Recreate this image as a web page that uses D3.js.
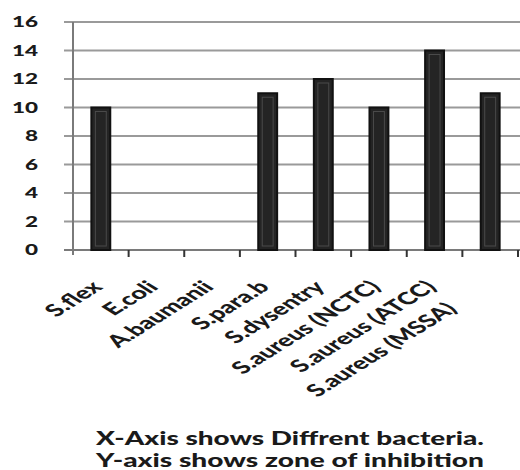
<!DOCTYPE html>
<html><head><meta charset="utf-8">
<script src="https://cdn.jsdelivr.net/npm/d3@7/dist/d3.min.js"></script>
<style>
html,body{margin:0;padding:0;background:#fff;}
svg{display:block;}
</style></head>
<body>
<svg id="chart" width="520" height="470"></svg>
<script>
const categories = ["S.flex","E.coli","A.baumanii","S.para.b","S.dysentry","S.aureus (NCTC)","S.aureus (ATCC)","S.aureus (MSSA)"];
const values = [10,0,0,11,12,10,14,11];
const yTicks = [0,2,4,6,8,10,12,14,16];
const captionLines = ["X-Axis shows Diffrent bacteria.","Y-axis shows zone of inhibition"];

(function(){
const svg = d3.select("#chart");
const mLeft = 73, mRight = 518, mTop = 22, mBottom = 250;
const sx = 1.6;
const font = "Lato, 'Open Sans', sans-serif";

const x = d3.scaleBand().domain(categories).range([mLeft, mRight]).paddingInner(0.66).paddingOuter(0.33);
const y = d3.scaleLinear().domain([0,16]).range([mBottom, mTop]);

// gridlines
svg.append("g").selectAll("line").data(yTicks).join("line")
  .attr("x1", 64).attr("x2", 520)
  .attr("y1", d => y(d)).attr("y2", d => y(d))
  .attr("stroke", "#9a9a9a").attr("stroke-width", 2);

// y axis line
svg.append("line").attr("x1", mLeft).attr("x2", mLeft).attr("y1", mTop).attr("y2", mBottom + 5)
  .attr("stroke", "#7a7a7a").attr("stroke-width", 2);
// x axis line
svg.append("line").attr("x1", 64).attr("x2", 520).attr("y1", mBottom).attr("y2", mBottom)
  .attr("stroke", "#7a7a7a").attr("stroke-width", 2);
// category ticks
const step = x.step();
svg.append("g").selectAll("line").data(categories).join("line")
  .attr("x1", (d,i) => mLeft + (i+1)*step).attr("x2", (d,i) => mLeft + (i+1)*step)
  .attr("y1", mBottom).attr("y2", mBottom + 7)
  .attr("stroke", "#333").attr("stroke-width", 2);

// y tick labels
svg.append("g").selectAll("text").data(yTicks).join("text")
  .attr("transform", d => `translate(38,${y(d)+5}) scale(1.5,1)`)
  .attr("text-anchor", "end")
  .attr("font-family", font).attr("font-weight", 900).attr("font-size", 15)
  .attr("fill", "#1a1a1a")
  .text(d => d);

// bars
const bars = svg.append("g");
categories.forEach((c,i) => {
  const v = values[i];
  if (v <= 0) return;
  bars.append("rect")
    .attr("x", x(c)).attr("y", y(v)).attr("width", x.bandwidth()).attr("height", y(0) - y(v))
    .attr("fill", "#242424").attr("stroke", "#111").attr("stroke-width", 2);
  bars.append("rect")
    .attr("x", x(c)+4).attr("y", y(v)+4).attr("width", x.bandwidth()-8).attr("height", y(0) - y(v) - 8)
    .attr("fill", "none").attr("stroke", "#4a4a4a").attr("stroke-width", 1);
});

// x labels
const labelShift = {7: -31};
svg.append("g").selectAll("text").data(categories).join("text")
  .attr("transform", (d,i) => `translate(${x(d) + x.bandwidth()/2 + 3},${mBottom + 38}) scale(${sx},1) rotate(-45) translate(${labelShift[i]||0},0)`)
  .attr("text-anchor", "end")
  .attr("font-family", font).attr("font-weight", 900).attr("font-size", 17)
  .attr("fill", "#1a1a1a")
  .text(d => d);

// caption
svg.append("g").selectAll("text").data(captionLines).join("text")
  .attr("x", 96).attr("y", (d,i) => 445 + i*22)
  .attr("font-family", font).attr("font-weight", 900).attr("font-size", 19)
  .attr("fill", "#1a1a1a")
  .attr("textLength", 388).attr("lengthAdjust", "spacingAndGlyphs")
  .text(d => d);
})();
</script>
</body></html>
